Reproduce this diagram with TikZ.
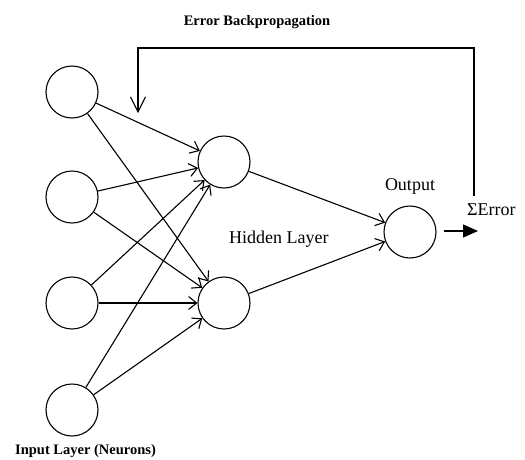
\documentclass[tikz,border=0pt]{standalone}
\usepackage{fontspec}
\setmainfont{Liberation Serif}
\usetikzlibrary{arrows.meta}
\begin{document}
\begin{tikzpicture}[x=1pt,y=-1pt,
  neuron/.style={circle,draw,line width=1.1pt,minimum size=52pt,inner sep=0pt},
  conn/.style={line width=1.1pt,-{Straight Barb[length=8pt,width=13pt,line width=1.1pt]}},
  fb/.style={line width=1.1pt,-{Straight Barb[length=15pt,width=15pt,line width=1.1pt]}},
  outarr/.style={line width=1.3pt,-{Triangle[length=15pt,width=13pt]}},
  lbl/.style={inner sep=0pt,font=\fontsize{18}{20}\selectfont},
  blbl/.style={inner sep=0pt,font=\fontsize{14.5}{16}\selectfont\bfseries}]
\useasboundingbox (0,0) rectangle (525,459);
\node[neuron] (i1) at (72,92) {};
\node[neuron] (i2) at (72,197) {};
\node[neuron] (i3) at (72,303) {};
\node[neuron] (i4) at (72,410) {};
\node[neuron] (h1) at (224,162) {};
\node[neuron] (h2) at (224,303) {};
\node[neuron] (o) at (410,232) {};
\node[blbl,anchor=base] (tb) at (257,25) {Error Backpropagation};
\node[blbl,anchor=base west] (tin) at (15,454) {Input Layer (Neurons)};
\node[lbl,anchor=base west] (thid) at (229,243) {Hidden Layer};
\node[lbl,anchor=base] (tout) at (410,190) {Output};
\node[lbl,anchor=base west] (terr) at (467,215) {ΣError};
\foreach \i in {i1,i2,i3,i4}{
  \foreach \h in {h1,h2}{
    \draw[conn] (\i) -- (\h);
  }
}
\draw[conn] (h1) -- (o);
\draw[conn] (h2) -- (o);
\coordinate (fbs) at (474,196);
\coordinate (fbe) at (138,113);
\draw[fb] (fbs) -- (fbs |- 0,48) -- (fbe |- 0,48) -- (fbe);
\coordinate (oe) at (478,231);
\draw[outarr,shorten <=7pt] (o.east |- oe) -- (oe);
\end{tikzpicture}
\end{document}
